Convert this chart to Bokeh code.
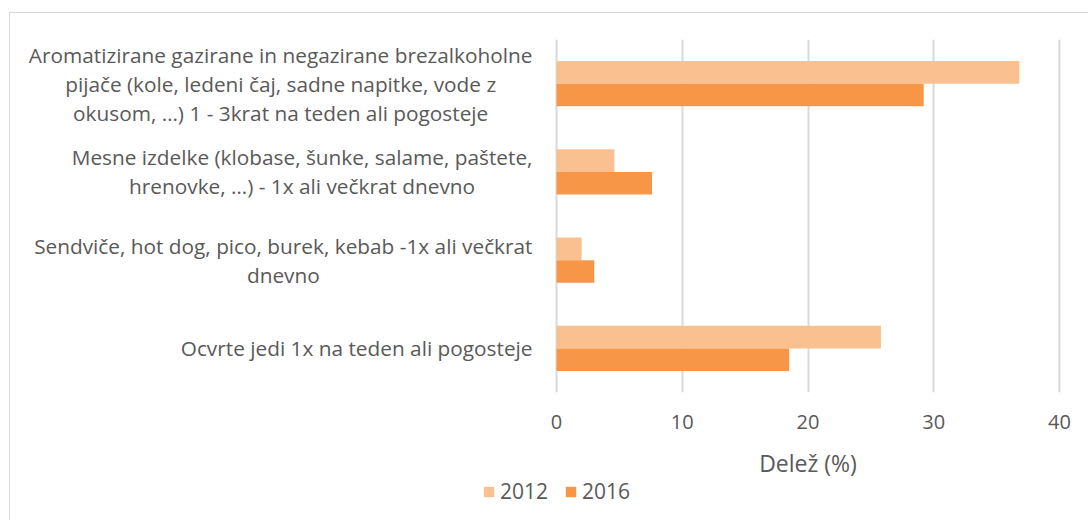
from bokeh.plotting import figure
from bokeh.layouts import column
from bokeh.models import (FactorRange, Range1d, FixedTicker, Legend, LegendItem,
                          ColumnDataSource, Label)
from bokeh.core.properties import value
from bokeh.transform import dodge
from bokeh.embed import file_html
from bokeh.resources import INLINE

categories = [
    "Aromatizirane gazirane in negazirane brezalkoholne\npijače (kole, ledeni čaj, sadne napitke, vode z\nokusom, …) 1 - 3krat na teden ali pogosteje",
    "Mesne izdelke (klobase, šunke, salame, paštete,\nhrenovke, …) - 1x ali večkrat dnevno",
    "Sendviče, hot dog, pico, burek, kebab -1x ali večkrat\ndnevno",
    "Ocvrte jedi 1x na teden ali pogosteje",
]
values_2012 = [36.8, 4.6, 2.0, 25.8]
values_2016 = [29.2, 7.6, 3.0, 18.5]
x_ticks = [0, 10, 20, 30, 40]
x_title = "Delež (%)"
series_names = ["2012", "2016"]

FONT = "Open Sans"
TXT = "#595959"
C2012 = "#FAC090"
C2016 = "#F79646"

# layout: content box starts at page (OX, OY) because of the chart border
OX, OY = 10, 13
W = 1078
H = 427
frame_left = 14 - OX
zero_px = 556 - OX
px40 = 1059 - OX
top_px = 39 - OY
bottom_px = 392 - OY
px_per_unit = (px40 - zero_px) / 40
x_min = -(zero_px - frame_left) / px_per_unit
x_max = (W - zero_px) / px_per_unit

src = ColumnDataSource(dict(cat=categories, v2012=values_2012, v2016=values_2016))

p = figure(width=W, height=H,
           y_range=FactorRange(factors=list(reversed(categories))),
           x_range=Range1d(x_min, x_max),
           output_backend="svg", toolbar_location=None,
           min_border_left=frame_left, min_border_right=0,
           min_border_top=top_px, min_border_bottom=H - bottom_px)

r1 = p.hbar(y=dodge("cat", 0.1285, range=p.y_range), right="v2012", left=0, height=0.257,
            source=src, fill_color=C2012, line_color=None)
r2 = p.hbar(y=dodge("cat", -0.1285, range=p.y_range), right="v2016", left=0, height=0.257,
            source=src, fill_color=C2016, line_color=None)

# category labels: block right-aligned, lines centred
p.text(x=0, y="cat", text="cat", source=src, x_offset=-24,
       anchor="center_right", text_align="center", text_baseline="middle",
       text_font=value(FONT), text_font_size="20.8px", text_color=TXT,
       text_line_height=1.04)

p.outline_line_color = None
p.background_fill_color = "white"
p.border_fill_color = "white"

p.ygrid.grid_line_color = None
p.xgrid.ticker = FixedTicker(ticks=x_ticks)
p.xgrid.grid_line_color = "#D9D9D9"
p.xgrid.grid_line_width = 2

p.yaxis.visible = False

xa = p.xaxis[0]
xa.ticker = FixedTicker(ticks=x_ticks)
xa.axis_line_color = None
xa.major_tick_line_color = None
xa.minor_tick_line_color = None
xa.major_label_text_font = FONT
xa.major_label_text_font_size = "20px"
xa.major_label_text_color = TXT
xa.major_label_standoff = 16

# strip below: axis title (centred on the value axis) and legend
H2 = 80
p2 = figure(width=W, height=H2, x_range=p.x_range, y_range=Range1d(-2, -1),
            output_backend="svg", toolbar_location=None,
            min_border_left=frame_left, min_border_right=0,
            min_border_top=0, min_border_bottom=0)
p2.axis.visible = False
p2.grid.visible = False
p2.outline_line_color = None
p2.background_fill_color = "white"
p2.border_fill_color = "white"

title = Label(x=(x_ticks[0] + x_ticks[-1]) / 2, x_units="data", y=58, y_units="screen",
              text=x_title, text_align="center", text_baseline="middle",
              text_font=FONT, text_font_size="23px", text_color=TXT)
p2.add_layout(title)

# legend proxies: zero-width bars outside the strip's visible range
q1 = p2.hbar(y="v2012", right="v2012", left="v2012", height=0.257, source=src,
             fill_color=C2012, line_color=None)
q2 = p2.hbar(y="v2016", right="v2016", left="v2016", height=0.257, source=src,
             fill_color=C2016, line_color=None)
legend = Legend(items=[LegendItem(label=series_names[0], renderers=[q1], index=0),
                       LegendItem(label=series_names[1], renderers=[q2], index=0)],
                orientation="horizontal", location=(468, 15),
                glyph_width=13, glyph_height=13, label_standoff=5, spacing=16,
                padding=0, margin=0, border_line_color=None,
                background_fill_alpha=0,
                label_text_font=FONT, label_text_font_size="21px",
                label_text_color=TXT)
p2.add_layout(legend, "center")

layout = column(p, p2, spacing=0,
                styles={"margin-left": "9px", "margin-top": "12px",
                        "border-left": "1px solid #D9D9D9",
                        "border-top": "1px solid #D9D9D9"})
open("out.html", "w").write(file_html(layout, INLINE))
